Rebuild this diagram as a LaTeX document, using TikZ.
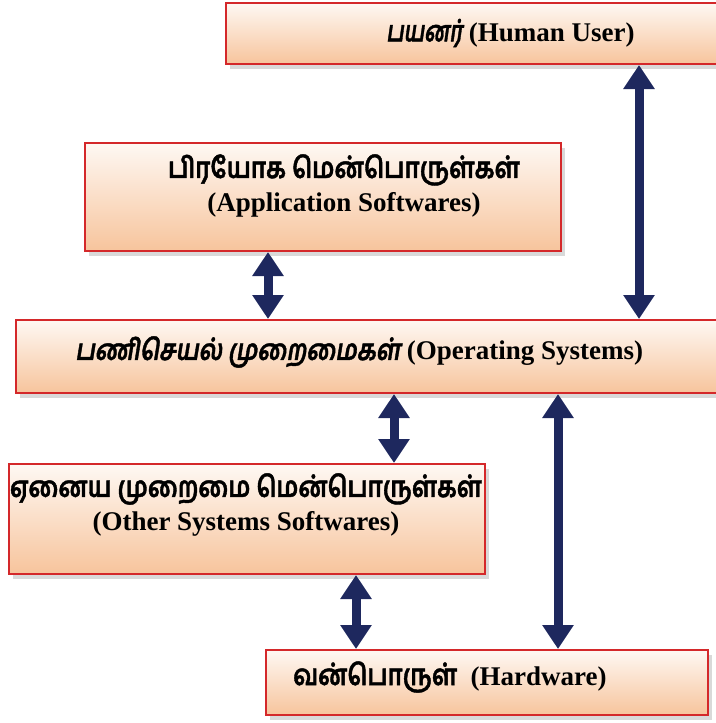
\documentclass[tikz,border=0pt]{standalone}
\usepackage{fontspec}
\usepackage{graphicx}
\setmainfont{Liberation Serif}
\newfontfamily\tam[Script=Tamil,FakeBold=1.5]{Hind Madurai}
\newfontfamily\tamit[Script=Tamil,FakeSlant=0.2,FakeBold=1.5]{Hind Madurai}
\newcommand\tamw[2]{\resizebox{#1}{\height}{\fontsize{29}{30}\selectfont #2}}
\usetikzlibrary{arrows.meta,shadows}
\definecolor{boxred}{RGB}{212,40,42}
\definecolor{peachtop}{RGB}{254,248,243}
\definecolor{peachbot}{RGB}{247,196,156}
\definecolor{navy}{RGB}{30,40,94}
\tikzset{
  box/.style={rectangle, draw=boxred, line width=2pt, inner sep=0pt,
    top color=peachtop, bottom color=peachbot, anchor=north west,
    drop shadow={shadow xshift=4pt, shadow yshift=-5pt, opacity=0.3, fill=gray}},
  lbl/.style={font=\fontsize{27}{30}\selectfont\bfseries, inner sep=0pt, align=center},
  dbl/.style={draw=navy, line width=9pt, {Triangle[width=30pt,length=24pt]}-{Triangle[width=30pt,length=24pt]}},
}
\begin{document}
\begin{tikzpicture}[x=1pt,y=-1pt]
\useasboundingbox (0,0) rectangle (715,723);
% boxes
\node[box, minimum width=600pt, minimum height=61pt] (user) at (225,2) {};
\node[box, minimum width=476pt, minimum height=108pt] (app) at (84,142) {};
\node[box, minimum width=800pt, minimum height=73pt] (os) at (15,319) {};
\node[box, minimum width=476pt, minimum height=110pt] (other) at (8,463) {};
\node[box, minimum width=442pt, minimum height=65pt] (hw) at (265,649) {};
% labels
\node[lbl, anchor=west] (tuser) at (386,33) {\tamw{76pt}{\tamit\bfseries பயனர்} (Human User)};
\node[lbl] (tapp) at (344,186) {\tamw{352pt}{\tam\bfseries பிரயோக மென்பொருள்கள்}\\[4pt](Application Softwares)};
\node[lbl, anchor=west] (tos) at (75,352) {\tamw{325pt}{\tamit\bfseries பணிசெயல் முறைமைகள்} (Operating Systems)};
\node[lbl] (tother) at (246,505) {\tamw{472pt}{\tam\bfseries ஏனைய முறைமை மென்பொருள்கள்}\\[4pt](Other Systems Softwares)};
\node[lbl, anchor=west] (thw) at (293,677) {\tamw{164pt}{\tam\bfseries வன்பொருள்}\ \ (Hardware)};
% arrow columns
\coordinate (c1) at (639,0);
\coordinate (c2) at (268,0);
\coordinate (c3) at (394,0);
\coordinate (c4) at (558,0);
\coordinate (c5) at (356,0);
\draw[dbl] (user.south -| c1) -- (os.north -| c1);
\draw[dbl] (app.south -| c2) -- (os.north -| c2);
\draw[dbl] (os.south -| c3) -- (other.north -| c3);
\draw[dbl] (os.south -| c4) -- (hw.north -| c4);
\draw[dbl] (other.south -| c5) -- (hw.north -| c5);
\end{tikzpicture}
\end{document}
